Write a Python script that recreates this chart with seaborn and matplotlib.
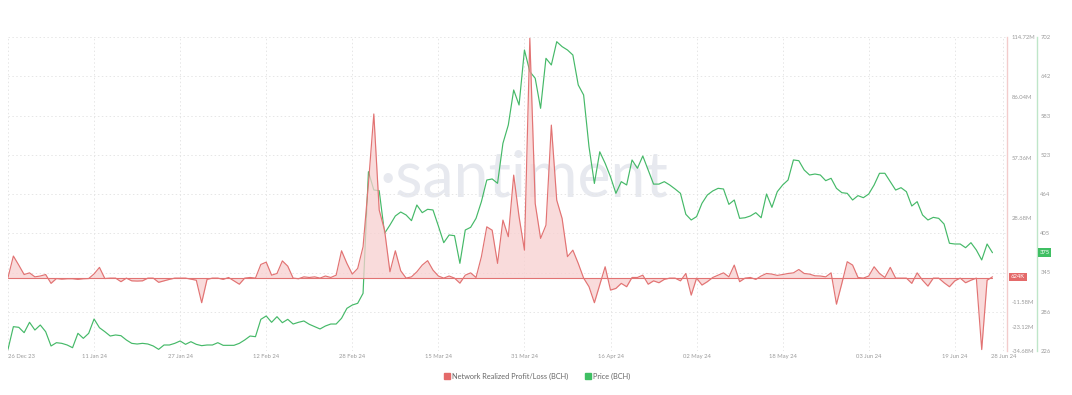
import numpy as np
import pandas as pd
import matplotlib
matplotlib.use("Agg")
import matplotlib.pyplot as plt
import matplotlib.transforms as mtransforms
from matplotlib.lines import Line2D
import seaborn as sns

# ---------------- data ----------------
start_date = "2023-12-26"

price_bch = [
    228.5, 262.9, 261.9, 253.8, 269.5, 257.8, 265.4, 255.3, 233.6, 238.6,
    237.6, 235.1, 231.0, 252.8, 245.2, 252.8, 274.5, 261.3, 255.3, 248.7,
    250.3, 249.2, 242.7, 237.6, 236.6, 237.6, 236.6, 233.6, 228.5, 235.1,
    235.1, 237.6, 241.2, 236.1, 240.1, 236.1, 234.1, 235.1, 235.1, 238.6,
    234.6, 234.6, 234.6, 237.6, 242.7, 248.7, 247.7, 274.0, 279.1, 269.5,
    278.0, 268.9, 274.0, 266.9, 269.5, 271.5, 266.5, 262.9, 259.4, 263.9,
    266.9, 266.9, 275.6, 290.7, 295.7, 298.3, 313.4, 497.8, 470.1, 469.0,
    404.4, 417.0, 430.7, 436.7, 432.2, 423.6, 447.3, 435.7, 440.8, 439.8,
    415.5, 390.2, 401.9, 400.8, 358.9, 409.4, 413.5, 427.1, 452.4, 485.2,
    486.8, 480.2, 540.8, 568.6, 621.7, 598.9, 682.3, 649.5, 639.4, 593.9,
    669.7, 659.6, 694.9, 687.4, 682.3, 674.7, 629.3, 614.1, 535.7,
    480.0, 528.0, 510.5, 490.0, 465.0, 482.7, 477.7, 515.6, 503.0, 521.6, 500.4,
    479.0, 479.0, 482.7, 477.7, 471.6, 465.0, 433.2, 424.6, 429.7, 449.9,
    462.5, 468.6, 472.6, 471.6, 448.3, 454.9, 427.1, 428.0, 430.7, 435.7,
    428.0, 464.0, 443.8, 467.5, 477.7, 485.2, 515.6, 514.5, 500.4, 492.8,
    494.3, 492.8, 484.2, 487.8, 472.6, 466.0, 465.0, 454.9, 461.5, 458.4,
    464.0, 477.7, 495.4, 495.4, 482.7, 470.0, 473.6, 467.5, 445.8, 452.4,
    432.2, 424.6, 428.6, 427.1, 418.5, 389.3, 388.2, 388.2, 382.6, 390.2,
    379.1, 364.0, 388.2, 375.0,
]

# Network Realized Profit/Loss, millions
pnl_musd = [
    0.3, 10.5, 6.2, 1.7, 2.5, 0.6, 1.0, 1.7, -2.5, -0.2,
    -0.5, -0.3, -0.3, -0.6, -0.3, -0.2, 2.0, 5.1, -0.2, 0.0,
    0.0, -1.7, 0.0, -1.3, -1.4, -1.3, 0.0, 0.0, -2.0, -1.3,
    -0.6, 0.0, 0.0, 0.0, -0.5, -1.0, -11.7, -0.6, 0.0, 0.0,
    -0.6, 0.3, -1.3, -2.9, 0.0, 0.3, 0.0, 6.5, 7.6, 1.4,
    2.2, 8.2, 5.7, 0.0, -0.3, 0.6, 0.3, 0.6, 0.0, 1.0,
    0.3, 1.4, 13.0, 7.0, 1.9, 4.6, 14.9, 45.0, 78.1, 32.4,
    22.8, 3.0, 13.0, 3.5, 0.0, 0.6, 3.0, 6.2, 8.3, 3.8,
    1.0, 0.0, 1.0, 0.0, -2.4, 1.4, 2.5, 0.3, 10.2, 24.4,
    22.8, 7.0, 27.6, 19.7, 49.0, 29.2, 13.3, 114.1, 35.5, 18.9,
    25.2, 72.8, 37.1, 28.4, 10.2, 13.3, 7.0, 0.0, -4.1,
    -11.7, -3.2, 5.4, -5.7, -4.9, -2.5, -4.1, 0.3, 0.3, 1.4, -2.9,
    -1.3, -2.2, -0.6, 0.0, 0.0, -1.3, 2.2, -8.1, 0.0, -3.3,
    -1.7, 0.3, 1.4, 2.5, 0.6, 6.2, -1.7, 0.0, 0.3, -0.6,
    1.0, 2.2, 1.9, 1.3, 1.7, 2.2, 2.5, 4.1, 2.2, 1.9,
    1.1, 1.0, 0.6, 2.5, -12.4, -2.5, 7.8, 6.2, 0.3, 0.0,
    1.0, 5.4, 2.2, 0.3, 5.1, 0.0, 0.0, 0.0, -2.5, 2.5,
    -1.0, -3.8, 0.0, 0.0, -2.2, -4.1, -1.3, 0.0, -2.2, -1.0,
    0.0, -34.0, -1.0, 0.624,
]

x_tick_dates = ["2023-12-26", "2024-01-11", "2024-01-27", "2024-02-12", "2024-02-28",
                "2024-03-15", "2024-03-31", "2024-04-16", "2024-05-02", "2024-05-18",
                "2024-06-03", "2024-06-19", "2024-06-28"]
x_tick_labels = ["26 Dec 23", "11 Jan 24", "27 Jan 24", "12 Feb 24", "28 Feb 24",
                 "15 Mar 24", "31 Mar 24", "16 Apr 24", "02 May 24", "18 May 24",
                 "03 Jun 24", "19 Jun 24", "28 Jun 24"]

pnl_ticks = [114.72, 86.04, 57.36, 28.68, -11.58, -23.12, -34.68]
pnl_tick_labels = ["114.72M", "86.04M", "57.36M", "28.68M", "-11.58M", "-23.12M", "-34.68M"]
price_ticks = [226, 285.5, 345, 404.5, 464, 523.5, 583, 642.5, 702]
price_tick_labels = ["226", "286", "345", "405", "464", "523", "583", "642", "702"]
last_pnl_label = "624K"
last_price_label = "375"

series_names = ["Network Realized Profit/Loss (BCH)", "Price (BCH)"]

# ---------------- style ----------------
RED = "#e27373"
RED_FILL = "#f8d0d0"
GREEN = "#45b968"
GRID = "#e6e6e6"
TXT = "#9a9a9a"

sns.set_style("white")
plt.rcParams["font.family"] = ["Lato", "DejaVu Sans"]

dates = pd.date_range(start_date, periods=len(price_bch), freq="D")
df = pd.DataFrame({"date": dates, "price": price_bch, "pnl": pnl_musd})

fig = plt.figure(figsize=(10.72, 3.95), dpi=100)
W, H = 1072, 395
ax = fig.add_axes([8 / W, 44 / H, 999 / W, 314 / H])   # price (host)
ax2 = ax.twinx()                                          # profit / loss

# watermark
ax.text(0.516, 0.55, "\u00b7santiment", transform=ax.transAxes, ha="center", va="center",
        fontsize=45, color="#e7e9ef", fontweight="normal", zorder=0)

# price line
sns.lineplot(data=df, x="date", y="price", ax=ax, color=GREEN, linewidth=0.85, zorder=3)

# pnl area + line
ax2.fill_between(df["date"], df["pnl"], 0, color=RED_FILL, alpha=0.75, linewidth=0, zorder=1)
sns.lineplot(data=df, x="date", y="pnl", ax=ax2, color=RED, linewidth=0.85, zorder=2)
ax2.plot(df["date"], np.zeros(len(df)), color=RED, linewidth=0.8, zorder=2)

# x axis
t0 = pd.Timestamp(start_date)
ax.set_xlim(t0, t0 + pd.Timedelta(days=185.7))
ax.set_xticks(pd.to_datetime(x_tick_dates))
ax.set_xticklabels(x_tick_labels)
for i, lab in enumerate(ax.get_xticklabels()):
    if i == 0:
        lab.set_ha("left")
ax.tick_params(axis="x", length=0, pad=2, labelsize=4.2, labelcolor=TXT)
ax.set_xlabel("")

# price axis (outer, green)
ax.set_ylim(226, 702)
ax.yaxis.tick_right()
ax.yaxis.set_label_position("right")
ax.set_yticks(price_ticks)
ax.set_yticklabels(price_tick_labels)
ax.tick_params(axis="y", length=0, pad=2.5, labelsize=4.2, labelcolor=TXT)
ax.set_ylabel("")
ax.spines["right"].set_position(("axes", 1.03))
ax.spines["right"].set_color("#bfe6c9")
ax.spines["right"].set_linewidth(1.0)
for s in ["top", "left", "bottom"]:
    ax.spines[s].set_visible(False)

# pnl axis (inner, red)
ax2.set_ylim(-34.68, 114.72)
ax2.set_yticks(pnl_ticks)
ax2.set_yticklabels(pnl_tick_labels)
ax2.tick_params(axis="y", length=0, pad=3.5, labelsize=4.2, labelcolor=TXT)
ax2.set_ylabel("")
ax2.spines["right"].set_color("#f3cccc")
ax2.spines["right"].set_linewidth(1.0)
for s in ["top", "left", "bottom"]:
    ax2.spines[s].set_visible(False)

# grid
ax.grid(True, which="major", axis="both", color=GRID, linestyle=(0, (1.5, 2.5)), linewidth=0.7)
ax.set_axisbelow(True)

# last value badges
tr2 = mtransforms.blended_transform_factory(ax2.transAxes, ax2.transData)
ax2.text(1.004, pnl_musd[-1], last_pnl_label, transform=tr2, ha="left", va="center",
         fontsize=4.2, color="white",
         bbox=dict(boxstyle="square,pad=0.3", fc="#e46a6a", ec="none"), clip_on=False)
tr1 = mtransforms.blended_transform_factory(ax.transAxes, ax.transData)
ax.text(1.0325, price_bch[-1], last_price_label, transform=tr1, ha="left", va="center",
        fontsize=4.2, color="white",
        bbox=dict(boxstyle="square,pad=0.3", fc="#3fbf63", ec="none"), clip_on=False)

# legend
handles = [Line2D([], [], marker="s", linestyle="none", markersize=4, color="#e46a6a"),
           Line2D([], [], marker="s", linestyle="none", markersize=4, color="#3fbf63")]
fig.legend(handles, series_names, loc="center", bbox_to_anchor=(537 / W, (H - 376) / H),
           ncol=2, frameon=False, fontsize=5.3, labelcolor="#666666",
           handletextpad=0.3, columnspacing=2.2, handlelength=0.8)

fig.savefig("out.png", dpi=100, facecolor="white")
